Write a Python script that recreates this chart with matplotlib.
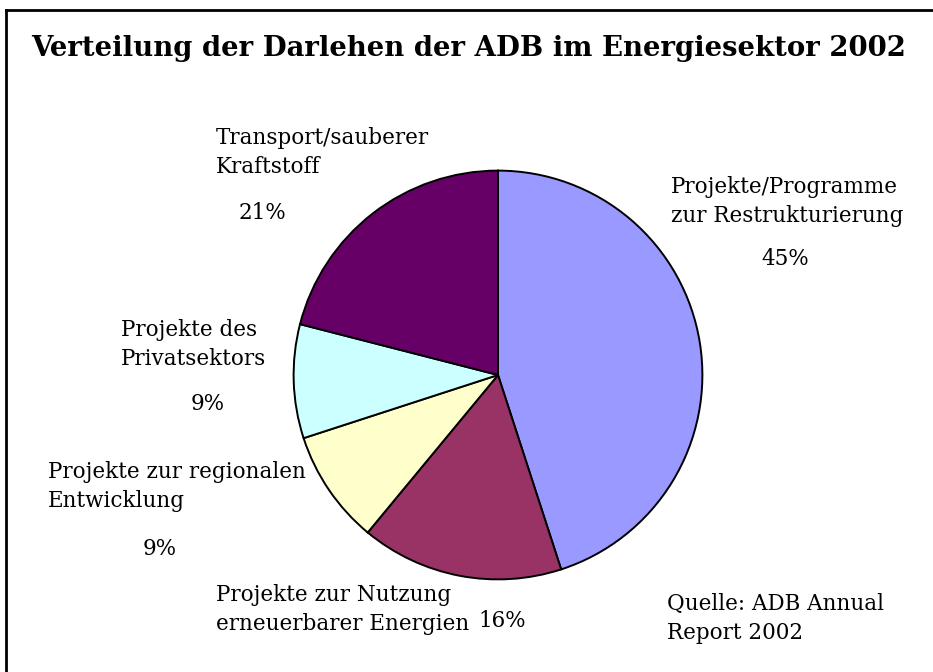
import matplotlib
matplotlib.use("Agg")
from matplotlib import pyplot as plt
from matplotlib.lines import Line2D

# data
labels = ["Projekte/Programme\nzur Restrukturierung",
          "Projekte zur Nutzung\nerneuerbarer Energien",
          "Projekte zur regionalen\nEntwicklung",
          "Projekte des\nPrivatsektors",
          "Transport/sauberer\nKraftstoff"]
shares = [45, 16, 9, 9, 21]
colors = ["#9999FF", "#993366", "#FFFFCC", "#CCFFFF", "#660066"]

W, H = 933, 672
plt.rcParams["font.family"] = ["DejaVu Serif"]

fig = plt.figure(figsize=(W / 100, H / 100), dpi=100)

def px(x, y):
    # pixel position (from top-left) -> figure fraction
    return x / W, 1 - y / H

# pie axes: centre ~ (498, 375), radius ~ 205 px
r = 205
ax = fig.add_axes([(498 - r) / W, (672 - 375 - r) / H, 2 * r / W, 2 * r / H])
ax.pie(shares, colors=colors, startangle=90, counterclock=False,
       wedgeprops=dict(edgecolor="black", linewidth=1.4))
ax.set_xlim(-1.003, 1.003)
ax.set_ylim(-1.003, 1.003)
ax.set_aspect("equal")
ax.axis("off")

# title
fig.text(*px(469, 48), "Verteilung der Darlehen der ADB im Energiesektor 2002",
         ha="center", va="center", fontsize=19.8, fontweight="bold")

fs = 15.5
ls = 1.4
# (label left x, label top y, pct centre x, pct centre y)
label_pos = [(671, 176, 785, 259),
             (216, 584, 502, 621),
             (48, 461, 160, 549),
             (121, 319, 208, 404),
             (216, 127, 262, 213)]
for lab, val, (lx, ly, vx, vy) in zip(labels, shares, label_pos):
    fig.text(*px(lx, ly), lab, ha="left", va="top", fontsize=fs, linespacing=ls)
    fig.text(*px(vx, vy), f"{val}%", ha="center", va="center", fontsize=fs)

fig.text(*px(667, 593), "Quelle: ADB Annual\nReport 2002", ha="left", va="top",
         fontsize=fs, linespacing=ls)

# frame: top and left edges only
fig.add_artist(Line2D([6 / W, 1], [1 - 10 / H, 1 - 10 / H], color="black", linewidth=2,
                      transform=fig.transFigure))
fig.add_artist(Line2D([6 / W, 6 / W], [0, 1 - 10 / H], color="black", linewidth=2,
                      transform=fig.transFigure))

fig.savefig("out.png", dpi=100, facecolor="white")
